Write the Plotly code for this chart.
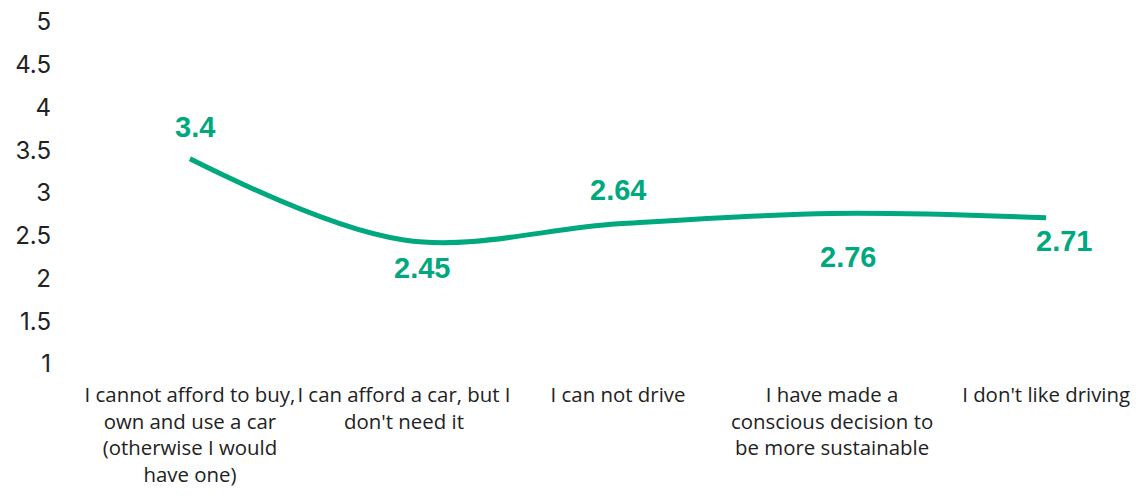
import plotly.graph_objects as go

# Reasons for not owning a car, mean agreement score (1-5)
categories = [
    "I cannot afford to buy,<br>own and use a car<br>(otherwise I would<br>have one)",
    "I can afford a car, but I<br>don't need it",
    "I can not drive",
    "I have made a<br>conscious decision to<br>be more sustainable",
    "I don't like driving",
]
scores = [3.4, 2.45, 2.64, 2.76, 2.71]
y_ticks = [1, 1.5, 2, 2.5, 3, 3.5, 4, 4.5, 5]

GREEN = "#00A87E"
positions = list(range(len(categories)))

fig = go.Figure()
fig.add_trace(go.Scatter(
    x=positions,
    y=scores,
    mode="lines",
    line=dict(color=GREEN, width=5, shape="spline", smoothing=1.0),
    hoverinfo="skip",
    showlegend=False,
))

# value labels placed above / below each point
label_offsets = [(5, 32), (18, -28), (0, 34), (16, -43), (18, -23)]
for xi, val, (dx, dy) in zip(positions, scores, label_offsets):
    fig.add_annotation(
        x=xi, y=val, text=f"<b>{val:g}</b>", showarrow=False,
        xshift=dx, yshift=dy,
        font=dict(family="Liberation Sans, Arial, sans-serif", size=29, color=GREEN),
    )

fig.update_layout(
    width=1136, height=496,
    margin=dict(l=60, r=0, t=22, b=132),
    paper_bgcolor="white", plot_bgcolor="white",
    xaxis=dict(
        range=[-0.607, 4.42],
        tickvals=positions, ticktext=categories,
        tickangle=0, automargin=False,
        showgrid=False, zeroline=False, showline=False, ticks="",
        tickfont=dict(family="Open Sans, sans-serif", size=20.4, color="#222222"),
        ticklabelstandoff=17,
    ),
    yaxis=dict(
        range=[1, 5],
        tickvals=y_ticks, ticktext=[f"{v:g}" for v in y_ticks],
        automargin=False,
        showgrid=False, zeroline=False, showline=False, ticks="",
        tickfont=dict(family="Inter, Lato, sans-serif", size=24, color="#222222"),
        ticklabelstandoff=8,
    ),
)

fig.write_html("out.html")
